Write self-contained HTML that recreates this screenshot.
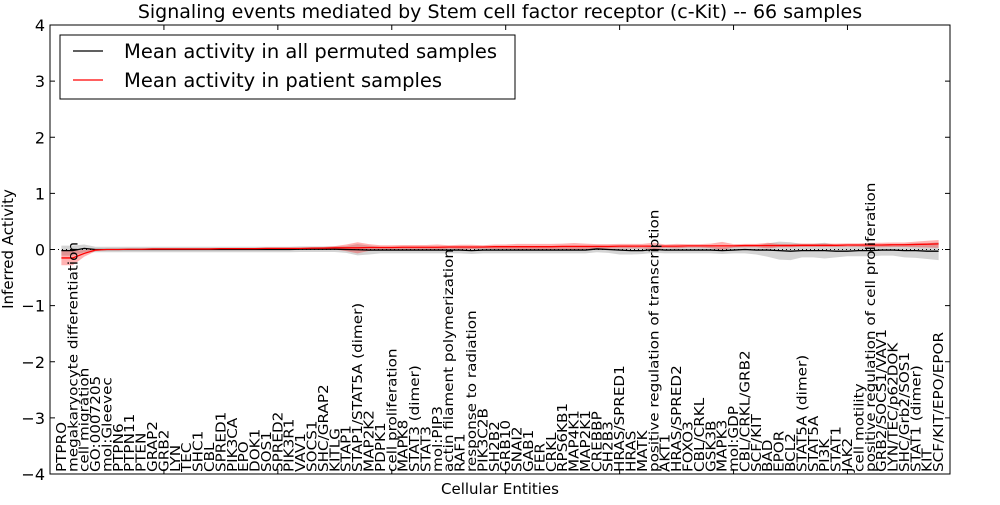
<!DOCTYPE html>
<html><head><meta charset="utf-8"><style>
body{margin:0;background:#fff;}
svg text{font-family:"DejaVu Sans","Liberation Sans",sans-serif;fill:#000;}
</style></head><body>
<svg id="chart" width="1000" height="500" xmlns="http://www.w3.org/2000/svg">
<rect x="0" y="0" width="1000" height="500" fill="#fff"/>
<g id="bands"></g>
<g id="lines"></g>
<rect x="50" y="25" width="900" height="449" fill="none" stroke="#000" stroke-width="1"/>
<g id="ticks"></g>
<g id="labels"></g>
<text x="500" y="18" font-size="19" text-anchor="middle">Signaling events mediated by Stem cell factor receptor (c-Kit) -- 66 samples</text>
<text x="500" y="494" font-size="15" text-anchor="middle">Cellular Entities</text>
<text transform="translate(13,249) rotate(-90)" font-size="15" text-anchor="middle">Inferred Activity</text>
<g>
<rect x="60" y="35" width="455" height="64" fill="#fff" stroke="#000" stroke-width="1"/>
<line x1="73" y1="51" x2="103" y2="51" stroke="#000" stroke-width="1.2"/>
<text x="124" y="58" font-size="19.5">Mean activity in all permuted samples</text>
<line x1="73" y1="80" x2="103" y2="80" stroke="#f00" stroke-width="1.2"/>
<text x="124" y="87" font-size="19.5">Mean activity in patient samples</text>
</g>
</svg>
<script>
const categories=["PTPRO","megakaryocyte differentiation","cell migration","GO:0007205","mol:Gleevec","PTPN6","PTPN11","PTEN","GRAP2","GRB2","LYN","TEC","SHC1","CBL","SPRED1","PIK3CA","EPO","DOK1","SOS1","SPRED2","PIK3R1","VAV1","SOCS1","SHC/GRAP2","KITLG","STAP1","STAP1/STAT5A (dimer)","MAP2K2","PDPK1","cell proliferation","MAPK8","STAT3 (dimer)","STAT3","mol:PIP3","actin filament polymerization","RAF1","response to radiation","PIK3C2B","SH2B2","GRB10","SNAI2","GAB1","FER","CRKL","RPS6KB1","MAP4K1","MAP2K1","CREBBP","SH2B3","HRAS/SPRED1","HRAS","MATK","positive regulation of transcription","AKT1","HRAS/SPRED2","FOXO3","CBL/CRKL","GSK3B","MAPK3","mol:GDP","CBL/CRKL/GRB2","SCF/KIT","BAD","EPOR","BCL2","STAT5A (dimer)","STAT5A","PI3K","STAT1","JAK2","cell motility","positive regulation of cell proliferation","GRB2/SOCS1/VAV1","LYN/TEC/p62DOK","SHC/Grb2/SOS1","STAT1 (dimer)","KIT","SCF/KIT/EPO/EPOR"];
const patientMean=[-0.15,-0.15,-0.07,-0.01,0,0,0.005,0.005,0.01,0.01,0.01,0.01,0.01,0.01,0.015,0.015,0.015,0.015,0.02,0.02,0.02,0.02,0.025,0.025,0.03,0.03,0.03,0.035,0.035,0.035,0.04,0.04,0.04,0.04,0.045,0.045,0.045,0.045,0.05,0.05,0.05,0.05,0.05,0.05,0.055,0.055,0.055,0.055,0.055,0.06,0.06,0.06,0.06,0.06,0.06,0.065,0.065,0.065,0.065,0.065,0.07,0.07,0.07,0.07,0.07,0.075,0.075,0.075,0.075,0.08,0.08,0.08,0.08,0.085,0.085,0.09,0.095,0.1];
const patientSpread=[0.13,0.13,0.06,0.02,0.01,0.01,0.01,0.01,0.01,0.01,0.01,0.01,0.01,0.01,0.01,0.01,0.01,0.01,0.01,0.01,0.01,0.01,0.015,0.02,0.03,0.06,0.1,0.06,0.04,0.04,0.04,0.04,0.04,0.05,0.03,0.04,0.04,0.03,0.04,0.04,0.05,0.05,0.05,0.05,0.05,0.06,0.05,0.04,0.04,0.04,0.04,0.04,0.06,0.03,0.04,0.03,0.03,0.04,0.07,0.03,0.03,0.03,0.05,0.03,0.03,0.03,0.03,0.03,0.03,0.03,0.03,0.04,0.04,0.04,0.04,0.05,0.06,0.07];
const permutedMean=[-0.02,-0.02,0.02,0,0,0,0,0,0,0,0,0,0,0,0,0,0,0,0,0,0,0.005,0.005,0.005,0.005,0,-0.005,-0.01,-0.01,-0.01,-0.01,-0.01,-0.01,-0.01,-0.01,-0.01,-0.02,-0.01,-0.01,-0.01,-0.01,-0.01,-0.01,-0.01,-0.01,-0.01,-0.01,0.01,0,-0.01,-0.02,-0.02,0,-0.01,-0.01,-0.01,-0.01,-0.01,-0.02,-0.01,0,-0.01,-0.01,-0.02,-0.03,-0.02,-0.02,-0.02,-0.03,-0.03,-0.02,-0.02,-0.01,-0.01,-0.02,-0.02,-0.03,-0.03];
const permutedSpread=[0.09,0.09,0.07,0.05,0.05,0.05,0.05,0.05,0.05,0.05,0.05,0.05,0.05,0.05,0.05,0.05,0.05,0.05,0.05,0.05,0.05,0.05,0.05,0.05,0.05,0.06,0.1,0.08,0.06,0.06,0.06,0.06,0.06,0.06,0.06,0.06,0.06,0.06,0.06,0.06,0.06,0.06,0.06,0.06,0.06,0.06,0.06,0.06,0.06,0.08,0.07,0.06,0.06,0.06,0.06,0.06,0.06,0.06,0.06,0.06,0.07,0.08,0.12,0.16,0.16,0.12,0.12,0.14,0.11,0.09,0.1,0.1,0.1,0.1,0.12,0.13,0.14,0.16];
const yTicks=[-4,-3,-2,-1,0,1,2,3,4];
const xTicks=[10,20,30,40,50,60,70];

const NS="http://www.w3.org/2000/svg";
function X(k){return 50+k*900/79;}
function Y(v){return 249.5-v*449/8;}
function mk(tag,attrs,parent){const e=document.createElementNS(NS,tag);for(const k in attrs)e.setAttribute(k,attrs[k]);parent.appendChild(e);return e;}
const bands=document.getElementById('bands'),lines=document.getElementById('lines'),ticks=document.getElementById('ticks'),labels=document.getElementById('labels');
function band(mean,spread,fill,op,name){
  let up=[],dn=[];
  mean.forEach((m,i)=>{up.push(X(i+1)+','+Y(m+spread[i]));dn.unshift(X(i+1)+','+Y(m-spread[i]));});
  const p=mk('polygon',{points:up.concat(dn).join(' '),fill:fill,'fill-opacity':op},bands);
  
  
}
band(permutedMean,permutedSpread,'#aaaaaa',0.5,'permuted-band');
band(patientMean,patientSpread,'#ff0000',0.3,'patient-band');
const zl=mk('line',{x1:50,x2:950,y1:Y(0),y2:Y(0),stroke:'#000','stroke-dasharray':'1,3','stroke-width':1},lines);


function line(vals,color,name){
  const pts=vals.map((v,i)=>X(i+1)+','+Y(v)).join(' ');
  const p=mk('polyline',{points:pts,fill:'none',stroke:color,'stroke-width':1.3},lines);
  
  
}
line(permutedMean,'#000','permuted-mean-line');
line(patientMean,'#f00','patient-mean-line');
yTicks.forEach(t=>{
  const y=Y(t);
  mk('line',{x1:50,x2:55,y1:y,y2:y,stroke:'#000'},ticks);
  mk('line',{x1:945,x2:950,y1:y,y2:y,stroke:'#000'},ticks);
  const tx=mk('text',{x:45,y:y+6,'font-size':16,'text-anchor':'end'},ticks);
  tx.textContent=(t<0?'\u2212'+(-t):String(t));
  
  
});
xTicks.forEach(t=>{
  const x=X(t);
  mk('line',{x1:x,x2:x,y1:25,y2:30,stroke:'#000'},ticks);
  mk('line',{x1:x,x2:x,y1:469,y2:474,stroke:'#000'},ticks);
});
categories.forEach((c,i)=>{
  const x=X(i+1)+4.5;
  const t=mk('text',{transform:'translate('+x+',472) rotate(-90) scale(1.17,1)','font-size':13},labels);
  t.textContent=c;
  
  
});
</script>
</body></html>
